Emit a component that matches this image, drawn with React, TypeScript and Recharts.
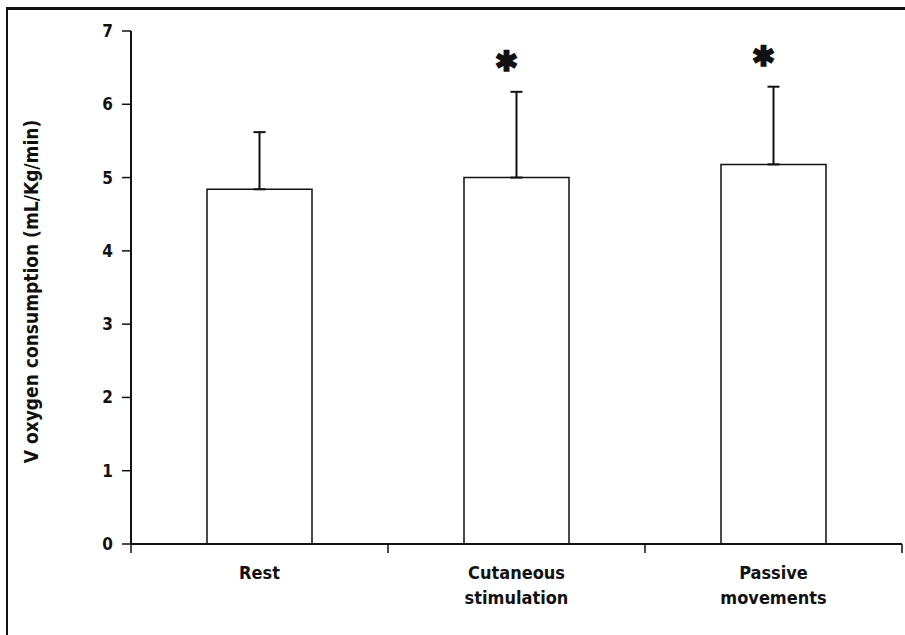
import { Bar, ComposedChart, ErrorBar, Scatter, XAxis, YAxis } from 'recharts';

const categories = ['Rest', 'Cutaneous\nstimulation', 'Passive\nmovements'];
const means = [4.84, 5.0, 5.18];
const sdUp = [0.78, 1.17, 1.06];
const marks = ['', '*', '*'];
const yTicks = [0, 1, 2, 3, 4, 5, 6, 7];

const data = categories.map((name, i) => ({
  name,
  mean: means[i],
  err: [0, sdUp[i]],
  top: means[i] + sdUp[i],
  mark: marks[i],
}));

const W = 905;
const H = 635;
const M = { top: 31, right: 3, left: 71, bottom: 31 };
const HALF_BAND = (W - M.left - 60 - M.right) / categories.length / 2;
const FONT = '"DejaVu Sans Condensed", "DejaVu Sans", sans-serif';

function CatTick(props: any) {
  const { x, y, payload, index } = props;
  const lines = String(payload.value).split('\n');
  return (
    <g>
      <line x1={x - HALF_BAND} y1={y} x2={x - HALF_BAND} y2={y + 9} stroke="#111" strokeWidth={1.5} />
      {index === categories.length - 1 && (
        <line x1={x + HALF_BAND} y1={y} x2={x + HALF_BAND} y2={y + 9} stroke="#111" strokeWidth={1.5} />
      )}
      {lines.map((l, i) => (
        <text
          key={i}
          x={x}
          y={y + 35 + i * 25}
          textAnchor="middle"
          fontFamily={FONT}
          fontWeight="bold"
          fontSize={18}
          fill="#111"
        >
          {l}
        </text>
      ))}
    </g>
  );
}

function YLabel(props: any) {
  const vb = props.viewBox || { y: M.top, height: 513 };
  const cy = vb.y + vb.height / 2 + 4;
  return (
    <text
      x={31}
      y={cy}
      transform={`rotate(-90 31 ${cy})`}
      textAnchor="middle"
      dominantBaseline="central"
      fontFamily={FONT}
      fontWeight="bold"
      fontSize={19}
      fill="#111"
    >
      V oxygen consumption (mL/Kg/min)
    </text>
  );
}

function Star(props: any) {
  const { cx, cy, payload } = props;
  if (!payload || !payload.mark) return <g />;
  return (
    <text
      x={cx - 10}
      y={cy - 30}
      textAnchor="middle"
      dominantBaseline="central"
      fontFamily="DejaVu Sans"
      fontSize={28}
      fill="#111"
      stroke="#111"
      strokeWidth={1.5}
    >
      ✱
    </text>
  );
}

export default function App() {
  return (
    <div style={{ position: 'absolute', left: 0, top: 0, width: W, height: H, background: '#fff' }}>
      <div
        style={{
          position: 'absolute',
          left: 6,
          top: 7,
          width: W - 6,
          height: H - 7,
          borderLeft: '2px solid #111',
          borderTop: '3px solid #111',
          boxSizing: 'border-box',
        }}
      />
      <div style={{ position: 'absolute', left: 0, top: 0 }}>
        <ComposedChart width={W} height={H} data={data} margin={M}>
          <XAxis
            dataKey="name"
            interval={0}
            tickSize={0}
            tickMargin={0}
            tickLine={false}
            axisLine={{ stroke: '#111', strokeWidth: 2 }}
            tick={<CatTick />}
            height={60}
          />
          <YAxis
            domain={[0, 7]}
            ticks={yTicks}
            interval={0}
            width={60}
            tickSize={9}
            tickMargin={9}
            axisLine={{ stroke: '#111', strokeWidth: 2 }}
            tickLine={{ stroke: '#111', strokeWidth: 1.5 }}
            tick={{ fontFamily: FONT, fontWeight: 'bold', fontSize: 17, fill: '#111' }}
            label={<YLabel />}
          />
          <Bar dataKey="mean" barSize={105} fill="#fff" stroke="#111" strokeWidth={1.5} isAnimationActive={false}>
            <ErrorBar dataKey="err" width={6} stroke="#111" strokeWidth={2} isAnimationActive={false} />
          </Bar>
          <Scatter dataKey="top" shape={<Star />} isAnimationActive={false} />
        </ComposedChart>
      </div>
    </div>
  );
}
